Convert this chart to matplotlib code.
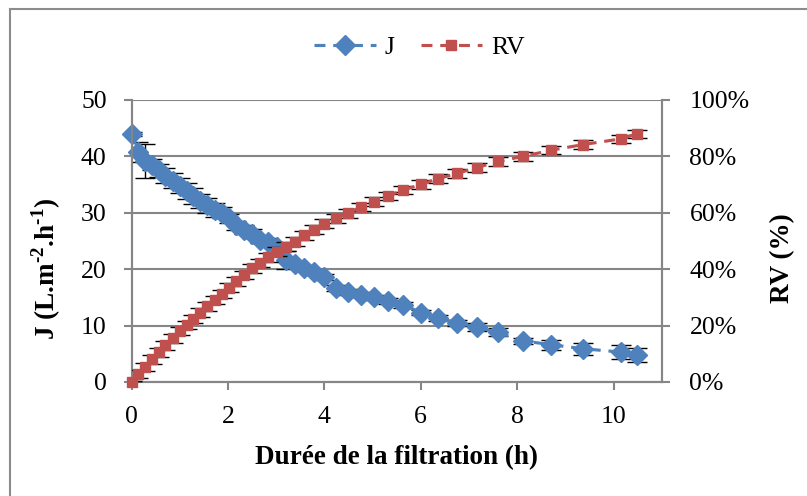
import matplotlib
matplotlib.use("Agg")
import matplotlib.pyplot as plt
from matplotlib.lines import Line2D
from matplotlib.ticker import FuncFormatter

plt.rcParams['font.family'] = ['Liberation Serif', 'DejaVu Serif']
plt.rcParams['mathtext.fontset'] = 'custom'
plt.rcParams['mathtext.rm'] = 'Liberation Serif:bold'
plt.rcParams['mathtext.bf'] = 'Liberation Serif:bold'

# ---- data ----
time_h = [0, 0.14, 0.28, 0.42, 0.56, 0.70, 0.85, 1.0, 1.14, 1.28, 1.42, 1.57, 1.72, 1.87,
          2.02, 2.17, 2.33, 2.5, 2.66, 2.83, 3.02, 3.2, 3.38, 3.57, 3.78, 3.99, 4.23, 4.48,
          4.75, 5.03, 5.32, 5.63, 6.01, 6.36, 6.76, 7.16, 7.6, 8.12, 8.71, 9.37, 10.15, 10.49]
J = [44.0, 40.8, 39.2, 38.5, 37.5, 36.6, 35.7, 34.8, 33.9, 33.0, 32.1, 31.3, 30.5, 30.0,
     29.0, 27.8, 27.0, 26.3, 25.2, 24.9, 24.0, 21.7, 21.0, 20.3, 19.5, 18.6, 16.7, 16.0,
     15.5, 15.0, 14.4, 13.7, 12.3, 11.3, 10.5, 9.7, 8.8, 7.3, 6.6, 5.9, 5.3, 4.8]
J_err = [0.3, 1.8, 3.0, 1.0, 1.2, 1.3, 1.3, 1.3, 1.4, 1.4, 1.3, 1.4, 1.2, 1.0,
         0.8, 0.8, 0.8, 0.8, 0.6, 0.6, 0.6, 1.6, 0.5, 0.5, 0.5, 0.5, 0.5, 0.5,
         0.5, 0.5, 0.5, 0.5, 0.5, 0.5, 0.5, 0.7, 0.7, 0.5, 0.9, 1.1, 1.3, 1.3]
RV = [0.0, 2.8, 5.3, 8.0, 10.5, 13.0, 15.5, 18.0, 20.2, 22.4, 24.6, 26.8, 29.0, 31.2,
      33.5, 35.7, 37.9, 40.3, 42.2, 44.2, 46.2, 48.0, 49.8, 52.0, 54.0, 56.2, 58.0, 59.8,
      62.0, 64.0, 66.0, 68.0, 70.1, 72.1, 74.0, 76.0, 78.2, 80.0, 82.2, 84.2, 86.2, 88.0]
RV_err = [0.3] + [1.5] * (len(RV) - 1)

x_ticks = [0, 2, 4, 6, 8, 10]
j_ticks = [0, 10, 20, 30, 40, 50]
rv_ticks = [0, 20, 40, 60, 80, 100]

blue = '#4F81BD'
red = '#C0504D'
grey = '#868686'
fs = 18.5
lfs = 19.5

fig = plt.figure(figsize=(8.07, 4.96), dpi=100)
ax = fig.add_axes([131.7 / 807, 1 - 382 / 496, (661.7 - 131.7) / 807, (382 - 100) / 496])
ax2 = ax.twinx()

dash = (0, (3.5, 2.5))

# J series
ax.errorbar(time_h, J, yerr=J_err, fmt='none', ecolor='black', elinewidth=1.0,
            capsize=7, capthick=1.0, zorder=3)
ax.plot(time_h, J, color=blue, linestyle=dash, linewidth=2.25,
        marker='D', markersize=10, markerfacecolor=blue, markeredgecolor=blue,
        zorder=4, clip_on=False)

# RV series
ax2.errorbar(time_h, RV, yerr=RV_err, fmt='none', ecolor='black', elinewidth=1.0,
             capsize=7, capthick=1.0, zorder=3)
ax2.plot(time_h, RV, color=red, linestyle=dash, linewidth=2.25,
         marker='s', markersize=7, markerfacecolor=red, markeredgecolor=red,
         zorder=4, clip_on=False)

ax.set_xlim(0, 11)
ax.set_ylim(0, 50)
ax2.set_ylim(0, 100)
ax.set_xticks(x_ticks)
ax.set_yticks(j_ticks)
ax2.set_yticks(rv_ticks)
ax2.yaxis.set_major_formatter(FuncFormatter(lambda v, p: f"{int(v)}%"))

ax.grid(axis='y', color=grey, linewidth=1.5)
ax.set_axisbelow(True)
for a in (ax, ax2):
    for s in a.spines.values():
        s.set_color(grey)
        s.set_linewidth(1.5)
    a.spines['top'].set_visible(False)
ax2.patch.set_visible(False)

ax.tick_params(axis='both', labelsize=fs, length=6, width=1.5, color=grey, direction='out')
ax.tick_params(axis='y', pad=12)
ax.tick_params(axis='x', pad=11)
ax2.tick_params(axis='y', labelsize=fs, length=6, width=1.5, color=grey, direction='out', pad=14)

ax.set_xlabel('Durée de la filtration (h)', fontsize=lfs, fontweight='bold')
ax.xaxis.set_label_coords(0.50, -0.225)
ax.set_ylabel(r'J (L.m$^{\text{-2}}$.h$^{\text{-1}}$)', fontsize=lfs, fontweight='bold')
ax.yaxis.set_label_coords(-0.13, 0.40)
ax2.set_ylabel('RV (%)', fontsize=lfs, fontweight='bold')
ax2.yaxis.set_label_coords(1.205, 0.44)

handles = [Line2D([], [], color=blue, linestyle=dash, linewidth=2.25, marker='D',
                  markersize=10, markerfacecolor=blue, markeredgecolor=blue),
           Line2D([], [], color=red, linestyle=dash, linewidth=2.25, marker='s',
                  markersize=7, markerfacecolor=red, markeredgecolor=red)]
fig.legend(handles, ['J', 'RV'], loc='center', bbox_to_anchor=(0.52, 0.905), ncol=2,
           frameon=False, fontsize=fs, handlelength=2.4, columnspacing=1.0, handletextpad=0.35)

# outer chart frame (left and top edges visible)
fig.add_artist(Line2D([10 / 807, 10 / 807], [0, 1 - 9 / 496], transform=fig.transFigure,
                      color='#8c8c8c', linewidth=1.5))
fig.add_artist(Line2D([10 / 807, 1], [1 - 9 / 496, 1 - 9 / 496], transform=fig.transFigure,
                      color='#8c8c8c', linewidth=1.5))

fig.savefig('out.png', dpi=100)
